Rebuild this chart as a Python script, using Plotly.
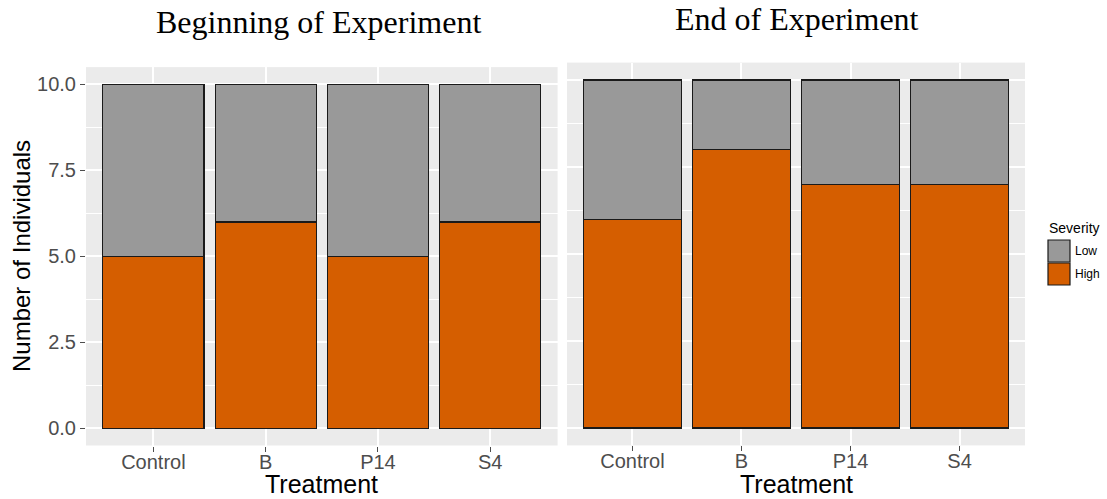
import plotly.graph_objects as go

# ---- data ----
treatments = ["Control", "B", "P14", "S4"]
begin_high = [5, 6, 5, 6]
begin_low = [5, 4, 5, 4]
end_high = [6, 8, 7, 7]
end_low = [4, 2, 3, 3]
y_ticks = [0, 2.5, 5, 7.5, 10]
y_tick_labels = ["0.0", "2.5", "5.0", "7.5", "10.0"]
severity_levels = ["Low", "High"]
colors = {"Low": "#999999", "High": "#D55E00"}

W, H = 1107, 499
def px(x):
    return x / W
def py(y):
    return 1 - y / H

fig = go.Figure()
bar_line = dict(color="#1a1a1a", width=1.2)

for (high, low, xa, ya) in [(begin_high, begin_low, "x", "y"), (end_high, end_low, "x2", "y2")]:
    fig.add_trace(go.Bar(x=treatments, y=high, name="High", marker=dict(color=colors["High"], line=bar_line),
                         width=0.9, xaxis=xa, yaxis=ya, showlegend=False))
    fig.add_trace(go.Bar(x=treatments, y=low, name="Low", marker=dict(color=colors["Low"], line=bar_line),
                         width=0.9, xaxis=xa, yaxis=ya, showlegend=False))

tickfont = dict(family="Liberation Sans, Arial, sans-serif", size=20, color="#4d4d4d")
common_x = dict(type="category", categoryorder="array", categoryarray=treatments, range=[-0.6, 3.6],
                showgrid=True, gridcolor="white", gridwidth=1.5, ticks="outside", ticklen=5,
                tickcolor="#4d4d4d", tickwidth=1, tickfont=tickfont, zeroline=False, fixedrange=True,
                ticklabelstandoff=-7)
common_y = dict(range=[-0.5, 10.5], tickvals=y_ticks, showgrid=True, gridcolor="white", gridwidth=1.5,
                zeroline=False, fixedrange=True,
                minor=dict(tickvals=[1.25, 3.75, 6.25, 8.75], showgrid=True,
                           gridcolor="white", gridwidth=0.7, ticks=""))

fig.update_layout(
    width=W, height=H, margin=dict(l=0, r=0, t=0, b=0),
    paper_bgcolor="white", plot_bgcolor="#EBEBEB", barmode="stack", bargap=0.1,
    xaxis=dict(domain=[px(86), px(557.6)], anchor="y", **common_x),
    yaxis=dict(domain=[py(445.5), py(67.1)], anchor="x", ticktext=y_tick_labels, ticks="outside",
               ticklen=5, tickcolor="#4d4d4d", tickwidth=1, tickfont=tickfont, **common_y),
    xaxis2=dict(domain=[px(567), px(1025)], anchor="y2", **common_x),
    yaxis2=dict(domain=[py(445.4), py(62.6)], anchor="x2", showticklabels=False, ticks="", **common_y),
)

annos = [
    dict(text="Beginning of Experiment", x=px(318), y=py(22), font=dict(family="Liberation Serif, Times New Roman, serif", size=32, color="black")),
    dict(text="End of Experiment", x=px(797), y=py(19), font=dict(family="Liberation Serif, Times New Roman, serif", size=32, color="black")),
    dict(text="Number of Individuals", x=px(22), y=py(256), textangle=-90, font=dict(family="Liberation Sans, Arial, sans-serif", size=24, color="black")),
    dict(text="Treatment", x=px(321), y=py(484), font=dict(family="Liberation Sans, Arial, sans-serif", size=25, color="black")),
    dict(text="Treatment", x=px(796), y=py(484), font=dict(family="Liberation Sans, Arial, sans-serif", size=25, color="black")),
    dict(text="Severity", x=px(1047), y=py(228), xanchor="left", font=dict(family="Liberation Sans, Arial, sans-serif", size=14, color="black")),
]
# legend keys
shapes = []
for i, lvl in enumerate(severity_levels):
    top = 240 + i * 23
    shapes.append(dict(type="rect", xref="paper", yref="paper", x0=px(1048), x1=px(1070), y0=py(top + 22), y1=py(top),
                       fillcolor=colors[lvl], line=dict(color="#1a1a1a", width=1.2)))
    annos.append(dict(text=lvl, x=px(1073), y=py(top + 11), xanchor="left",
                      font=dict(family="Liberation Sans, Arial, sans-serif", size=12, color="black")))

for a in annos:
    a.setdefault("xanchor", "center")
    a.update(xref="paper", yref="paper", yanchor="middle", showarrow=False)
fig.update_layout(annotations=annos, shapes=shapes)

fig.write_html("out.html", config={"displayModeBar": False},
               post_script="document.body.style.margin='0';document.body.style.overflow='hidden';")
